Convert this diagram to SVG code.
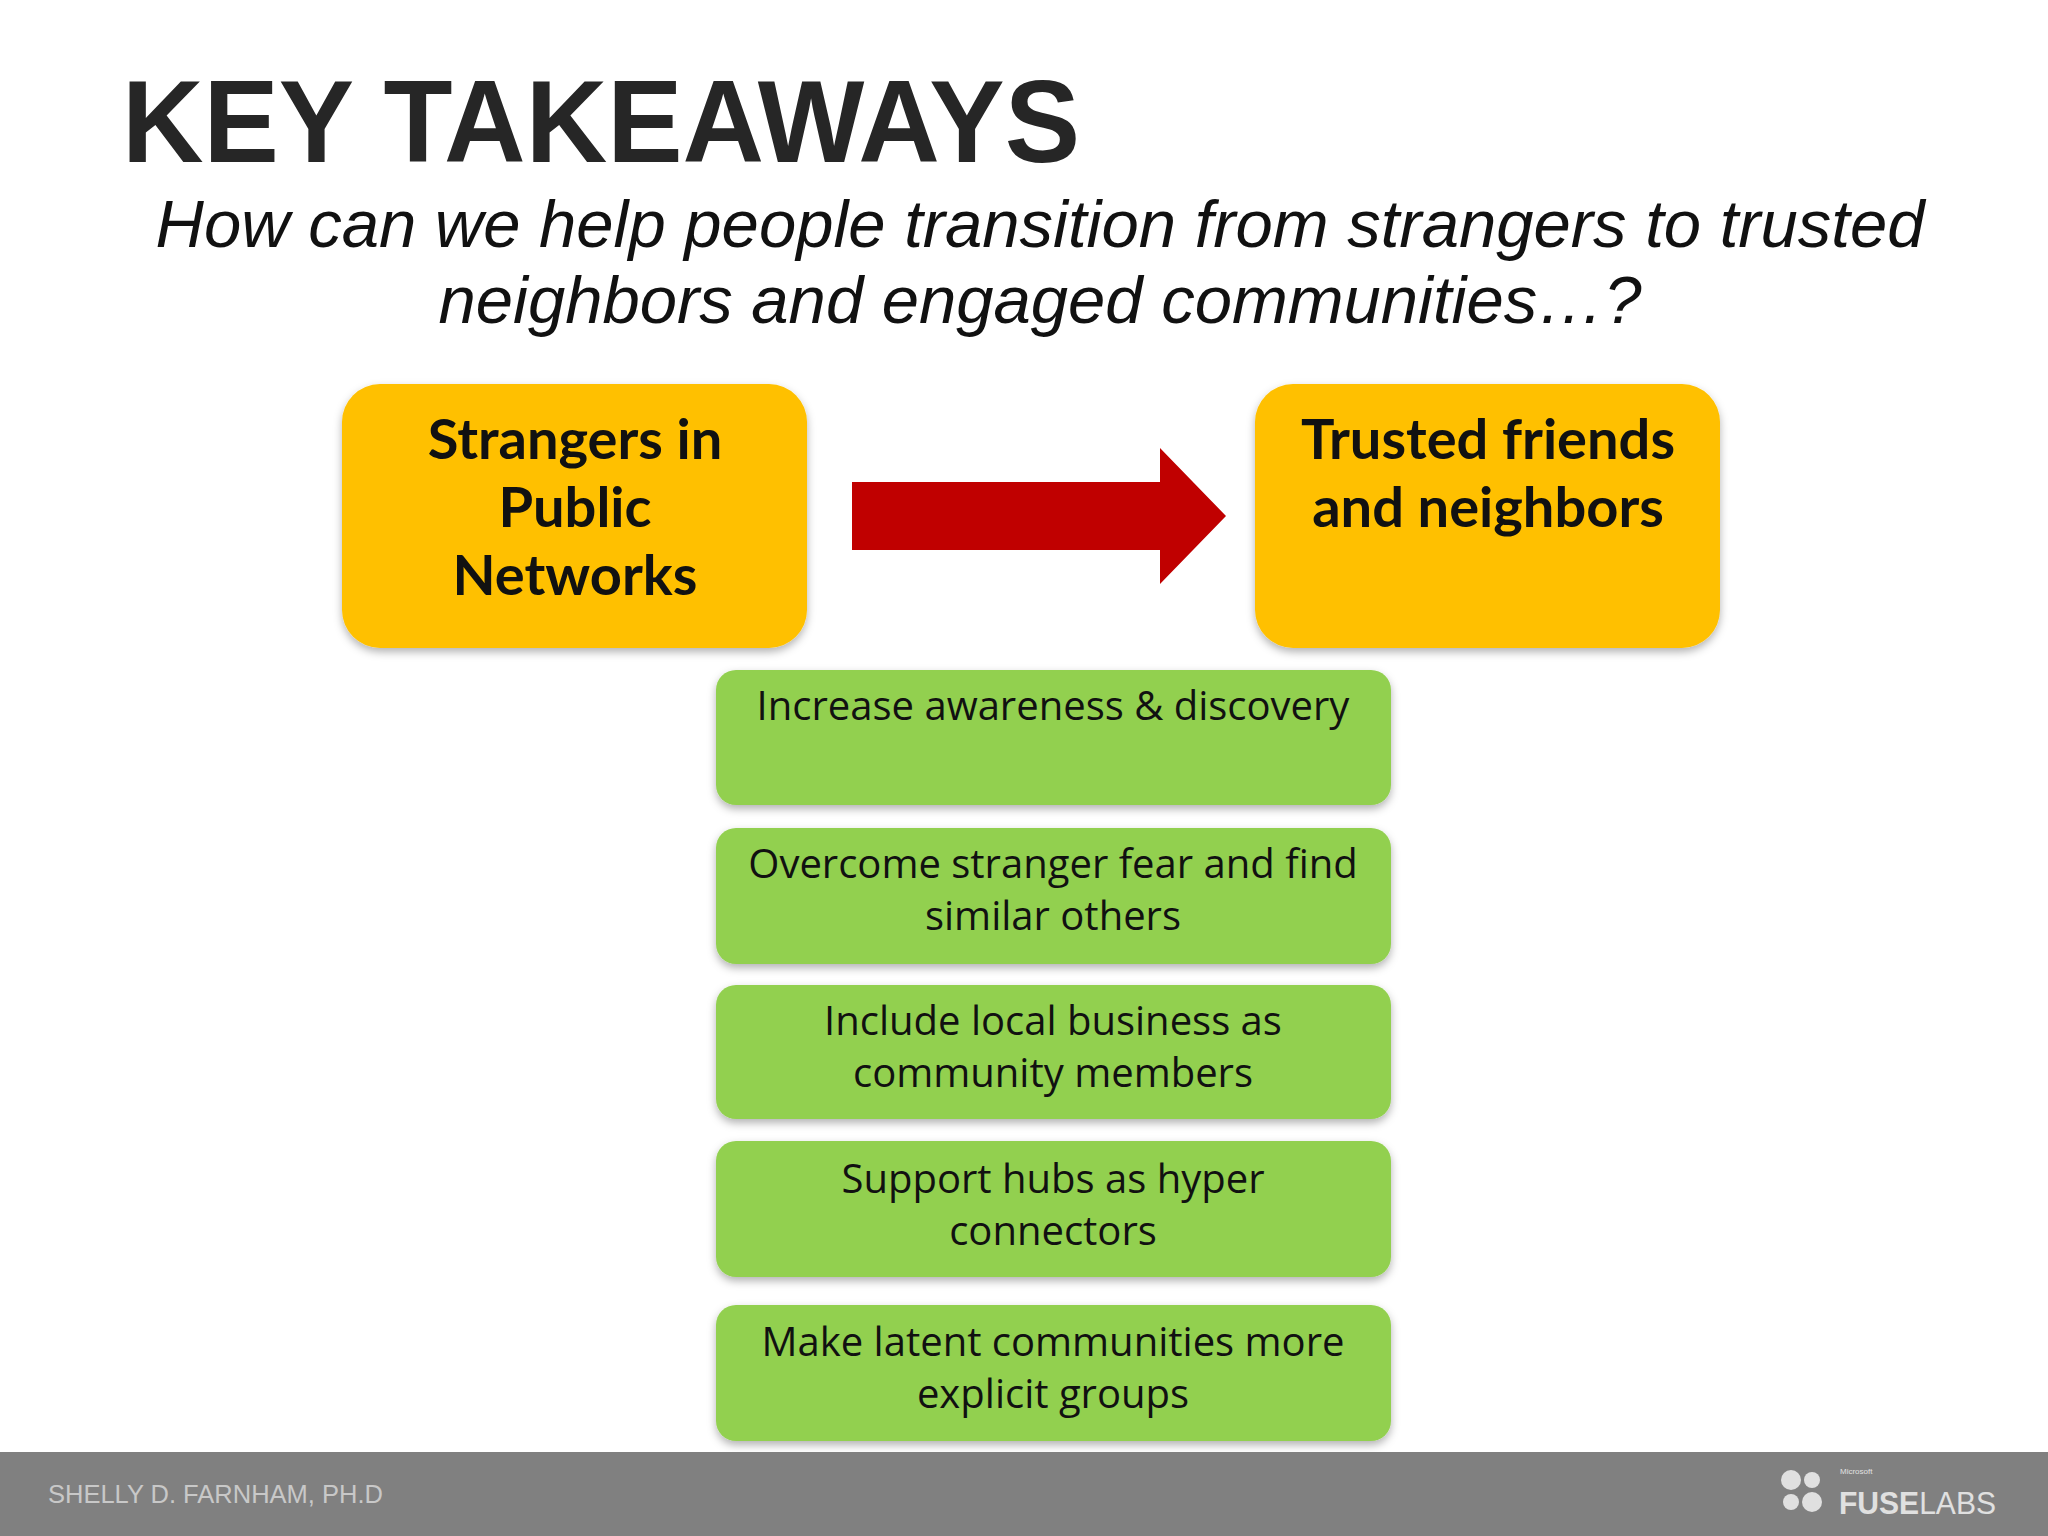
<svg xmlns="http://www.w3.org/2000/svg" width="2048" height="1536" viewBox="0 0 2048 1536">
<defs>
<filter id="sh" x="-10%" y="-10%" width="120%" height="130%"><feDropShadow dx="0" dy="4" stdDeviation="4" flood-color="#000" flood-opacity="0.3"/></filter>
<style>
.o{fill:#FFC000;filter:url(#sh)}
.g{fill:#92D050;filter:url(#sh)}
.ot{font-family:Lato,"Open Sans",sans-serif;font-weight:bold;font-size:56px;fill:#111;text-anchor:middle}
.gt{font-family:"Open Sans",Lato,sans-serif;font-size:40px;fill:#111;text-anchor:middle}
</style>
</defs>
<rect width="2048" height="1536" fill="#fff"/>
<text x="122" y="162" font-family="Liberation Sans,Arial,sans-serif" font-weight="bold" font-size="116" fill="#262626" textLength="958" lengthAdjust="spacingAndGlyphs">KEY TAKEAWAYS</text>
<text font-family="Liberation Sans,Arial,sans-serif" font-style="italic" font-size="67" fill="#111" text-anchor="middle"><tspan x="1040" y="247">How can we help people transition from strangers to trusted</tspan><tspan x="1040" y="323">neighbors and engaged communities…?</tspan></text>
<g id="strangers"><rect class="o" x="342" y="384" width="465" height="264" rx="38"/><text class="ot"><tspan x="575" y="459">Strangers in</tspan><tspan x="575" y="527">Public</tspan><tspan x="575" y="595">Networks</tspan></text></g>
<g id="trusted"><rect class="o" x="1255" y="384" width="465" height="264" rx="38"/><text class="ot"><tspan x="1488" y="459">Trusted friends</tspan><tspan x="1488" y="527">and neighbors</tspan></text></g>
<g id="connectors"><polygon points="852,482 1160,482 1160,448 1226,516 1160,584 1160,550 852,550" fill="#C00000"/></g>
<g id="g1"><rect class="g" x="716" y="670" width="675" height="135" rx="20"/><text class="gt" x="1053" y="720">Increase awareness &amp; discovery</text></g>
<g id="g2"><rect class="g" x="716" y="828" width="675" height="136" rx="20"/><text class="gt"><tspan x="1053" y="878">Overcome stranger fear and find</tspan><tspan x="1053" y="930">similar others</tspan></text></g>
<g id="g3"><rect class="g" x="716" y="985" width="675" height="134" rx="20"/><text class="gt"><tspan x="1053" y="1035">Include local business as</tspan><tspan x="1053" y="1087">community members</tspan></text></g>
<g id="g4"><rect class="g" x="716" y="1141" width="675" height="136" rx="20"/><text class="gt"><tspan x="1053" y="1193">Support hubs as hyper</tspan><tspan x="1053" y="1245">connectors</tspan></text></g>
<g id="g5"><rect class="g" x="716" y="1305" width="675" height="136" rx="20"/><text class="gt"><tspan x="1053" y="1356">Make latent communities more</tspan><tspan x="1053" y="1408">explicit groups</tspan></text></g>
<rect x="0" y="1452" width="2048" height="84" fill="#808080"/>
<text x="48" y="1503" font-family="Liberation Sans,Arial,sans-serif" font-size="25.5" fill="#c8c8c8">SHELLY D. FARNHAM, PH.D</text>
<g fill="#e0e0e0"><circle cx="1791" cy="1480" r="10"/><circle cx="1812" cy="1480" r="8"/><circle cx="1791" cy="1502" r="8"/><circle cx="1812" cy="1502" r="10"/></g>
<text x="1840" y="1474" font-family="Liberation Sans,Arial,sans-serif" font-size="8" fill="#e0e0e0">Microsoft</text>
<text x="1839" y="1514" font-family="Liberation Sans,Arial,sans-serif" font-size="32" fill="#e0e0e0" textLength="157" lengthAdjust="spacingAndGlyphs"><tspan font-weight="bold">FUSE</tspan>LABS</text>
</svg>
